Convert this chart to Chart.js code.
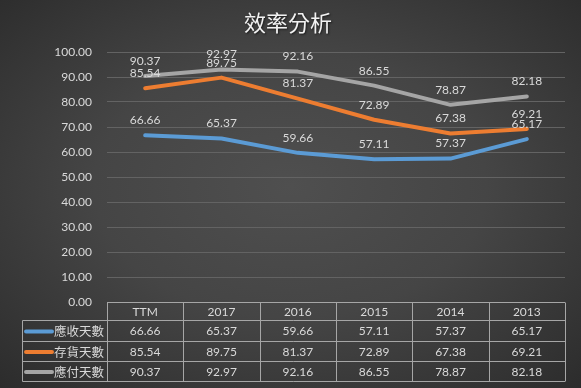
<!DOCTYPE html>
<html>
<head>
<meta charset="utf-8">
<script src="https://cdn.jsdelivr.net/npm/chart.js@4.4.1/dist/chart.umd.min.js"></script>
<style>
  html, body { margin: 0; padding: 0; }
  body {
    width: 581px; height: 388px; overflow: hidden;
    background: radial-gradient(ellipse 75% 75% at 50% 48%, #4f4f4f 0%, #454545 45%, #2a2a2a 100%);
  }
  #wrap { position: relative; width: 581px; height: 388px; }
</style>
</head>
<body>
<div id="wrap"><canvas id="chart" width="581" height="388"></canvas></div>
<script>
// ── Dados ────────────────────────────────────────────────────
const categorias = ['TTM', '2017', '2016', '2015', '2014', '2013'];
const seriesNomes = ['應收天數', '存貨天數', '應付天數'];
const receber  = [66.66, 65.37, 59.66, 57.11, 57.37, 65.17];
const estoque  = [85.54, 89.75, 81.37, 72.89, 67.38, 69.21];
const pagar    = [90.37, 92.97, 92.16, 86.55, 78.87, 82.18];
const cores    = ['#5b9bd5', '#ed7d31', '#a5a5a5'];
const titulo   = '效率分析';

const FONT_NUM = 'Lato, "Open Sans", sans-serif';
const FONT_CJK = '"Noto Sans CJK TC", "Noto Sans CJK SC", sans-serif';
const TXT = '#d9d9d9';

// ── Plugin: título, rótulos e tabela de dados ────────────────
const extras = {
  id: 'extras',
  afterDatasetsDraw(chart) {
    const { ctx, chartArea, scales } = chart;
    const x = scales.x;

    // título
    ctx.save();
    ctx.font = '22px ' + FONT_CJK;
    ctx.fillStyle = '#f2f2f2';
    ctx.textAlign = 'center';
    ctx.textBaseline = 'middle';
    ctx.shadowColor = 'rgba(0,0,0,0.6)';
    ctx.shadowOffsetX = 1; ctx.shadowOffsetY = 1; ctx.shadowBlur = 2;
    ctx.fillText(titulo, (chartArea.left + chartArea.right) / 2 - 48, 23);
    ctx.restore();

    // rótulos de dados acima dos pontos
    ctx.save();
    ctx.font = '12px ' + FONT_NUM;
    ctx.fillStyle = TXT;
    ctx.textAlign = 'center';
    ctx.textBaseline = 'middle';
    chart.data.datasets.forEach((ds, i) => {
      const meta = chart.getDatasetMeta(i);
      meta.data.forEach((pt, j) => {
        ctx.fillText(ds.data[j].toFixed(2), pt.x, pt.y - 15);
      });
    });
    ctx.restore();

    // tabela de dados
    const colW = (chartArea.right - chartArea.left) / categorias.length;
    const top = chartArea.bottom;
    const rowH = [18, 21, 20, 20];
    const legLeft = 22.5;
    const ys = [top];
    rowH.forEach(h => ys.push(ys[ys.length - 1] + h));

    ctx.save();
    ctx.strokeStyle = '#a6a6a6';
    ctx.lineWidth = 1;
    ctx.beginPath();
    // linhas horizontais
    ctx.moveTo(chartArea.left, Math.round(ys[0]) + 0.5);
    ctx.lineTo(chartArea.right, Math.round(ys[0]) + 0.5);
    for (let r = 1; r < ys.length; r++) {
      ctx.moveTo(legLeft, Math.round(ys[r]) + 0.5);
      ctx.lineTo(chartArea.right, Math.round(ys[r]) + 0.5);
    }
    // linhas verticais
    ctx.moveTo(legLeft, Math.round(ys[1]) + 0.5);
    ctx.lineTo(legLeft, Math.round(ys[4]) + 0.5);
    for (let c = 0; c <= categorias.length; c++) {
      const xx = Math.round(chartArea.left + c * colW) + 0.5;
      ctx.moveTo(xx, Math.round(ys[0]) + 0.5);
      ctx.lineTo(xx, Math.round(ys[4]) + 0.5);
    }
    ctx.stroke();

    ctx.textAlign = 'center';
    ctx.textBaseline = 'middle';
    ctx.fillStyle = TXT;
    ctx.font = '12px ' + FONT_NUM;
    categorias.forEach((c, j) => {
      ctx.fillText(c, x.getPixelForValue(j), (ys[0] + ys[1]) / 2 + 1);
    });
    chart.data.datasets.forEach((ds, i) => {
      const cy = (ys[i + 1] + ys[i + 2]) / 2 + 1;
      ds.data.forEach((v, j) => {
        ctx.fillText(v.toFixed(2), x.getPixelForValue(j), cy);
      });
      // chave da legenda
      ctx.save();
      ctx.strokeStyle = cores[i];
      ctx.lineWidth = 4;
      ctx.lineCap = 'round';
      ctx.beginPath();
      ctx.moveTo(26, cy);
      ctx.lineTo(52, cy);
      ctx.stroke();
      ctx.restore();
      ctx.save();
      ctx.font = '12.5px ' + FONT_CJK;
      ctx.textAlign = 'left';
      ctx.fillText(seriesNomes[i], 54, cy);
      ctx.restore();
    });
    ctx.restore();
  }
};

// ── Gráfico ──────────────────────────────────────────────────
const mkDs = (label, data, cor) => ({
  label, data,
  borderColor: cor,
  backgroundColor: cor,
  borderWidth: 4,
  pointRadius: 0,
  tension: 0,
  borderCapStyle: 'round',
  borderJoinStyle: 'round'
});

new Chart(document.getElementById('chart'), {
  type: 'line',
  data: {
    labels: categorias,
    datasets: [
      mkDs(seriesNomes[0], receber, cores[0]),
      mkDs(seriesNomes[1], estoque, cores[1]),
      mkDs(seriesNomes[2], pagar, cores[2])
    ]
  },
  options: {
    responsive: false,
    animation: false,
    layout: { padding: { top: 52, right: 16, bottom: 86, left: 0 } },
    plugins: {
      legend: { display: false },
      tooltip: { enabled: false },
      title: { display: false }
    },
    scales: {
      x: {
        display: false,
        offset: true
      },
      y: {
        min: 0,
        max: 100,
        afterFit: (s) => { s.width = 107; },
        ticks: {
          stepSize: 10,
          padding: 15,
          color: TXT,
          font: { family: FONT_NUM, size: 12 },
          callback: (v) => Number(v).toFixed(2)
        },
        grid: { color: '#636363', drawTicks: false },
        border: { display: false }
      }
    }
  },
  plugins: [extras]
});
</script>
</body>
</html>
